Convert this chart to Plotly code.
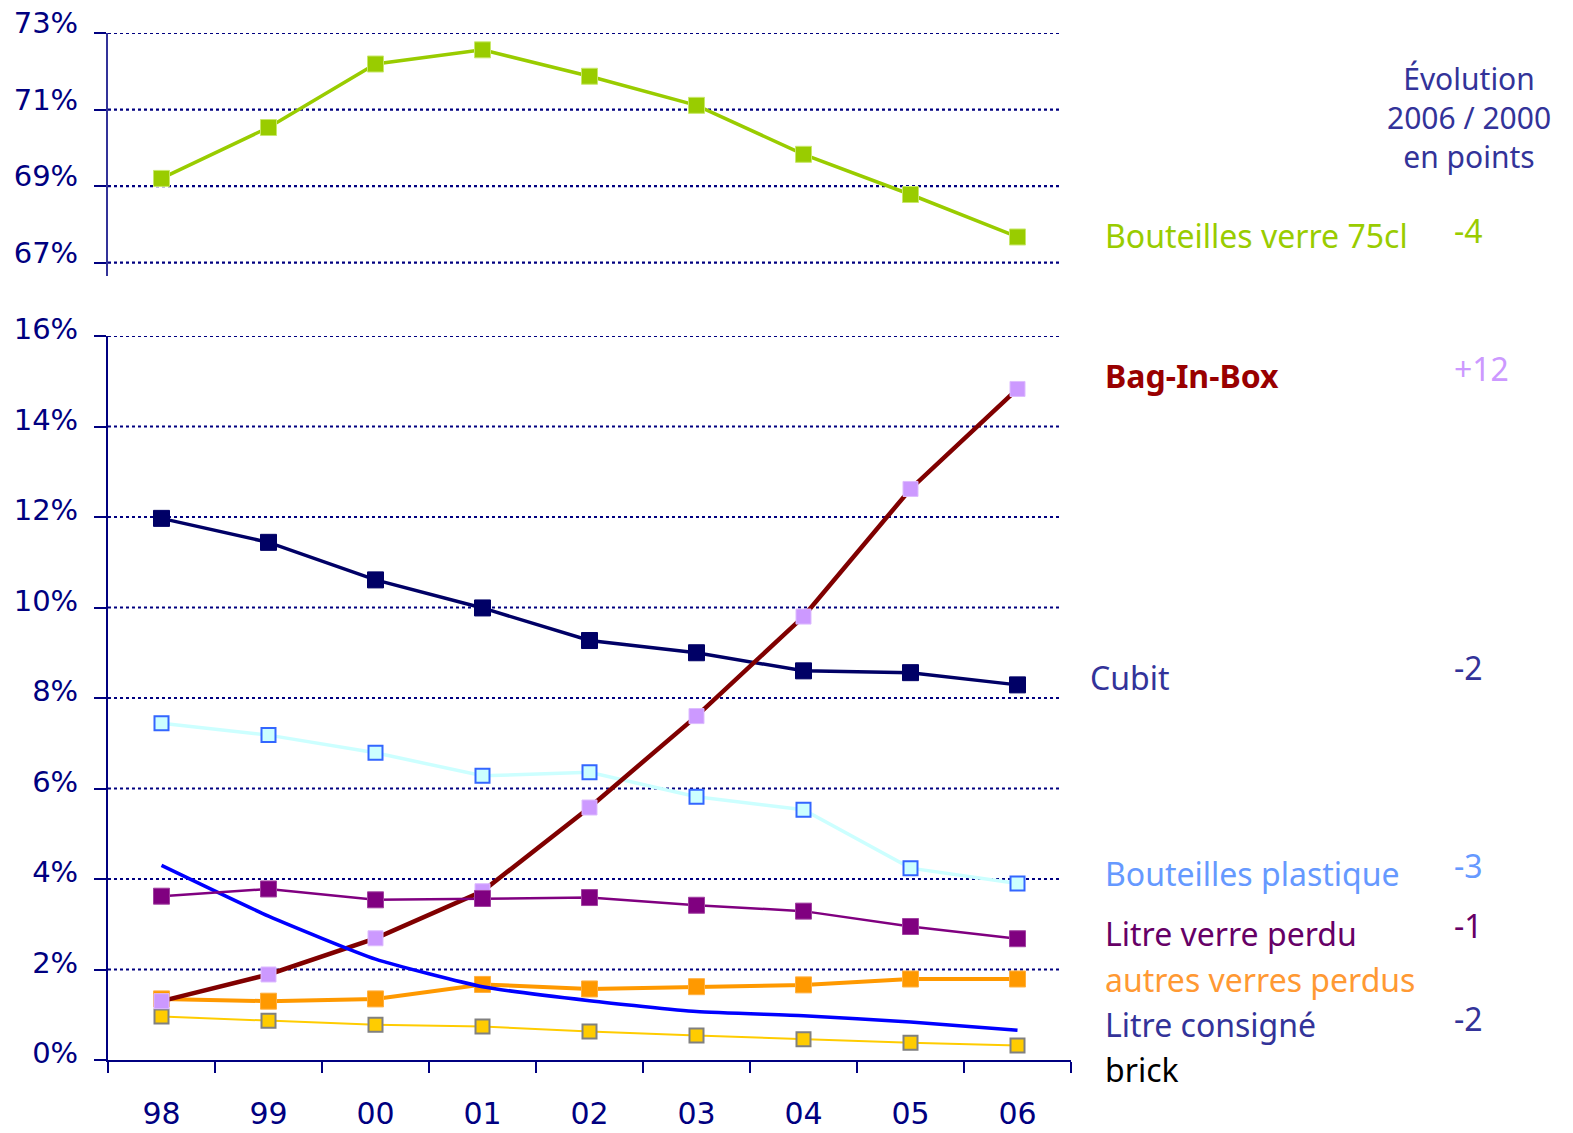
import plotly.graph_objects as go

# Parts de marché des conditionnements (en % des volumes)
years = ["98", "99", "00", "01", "02", "03", "04", "05", "06"]

verre_75cl = [69.20, 70.53, 72.19, 72.56, 71.87, 71.11, 69.83, 68.78, 67.67]
bag_in_box = [1.30, 1.89, 2.69, 3.73, 5.58, 7.60, 9.80, 12.62, 14.83]
cubit = [11.97, 11.44, 10.61, 9.99, 9.27, 9.00, 8.60, 8.56, 8.29]
bouteilles_plastique = [7.44, 7.18, 6.79, 6.28, 6.36, 5.82, 5.53, 4.24, 3.90]
litre_verre_perdu = [3.62, 3.78, 3.54, 3.57, 3.59, 3.42, 3.29, 2.95, 2.68]
autres_verres_perdus = [1.35, 1.30, 1.35, 1.67, 1.57, 1.62, 1.66, 1.79, 1.79]
litre_consigne = [4.30, 3.18, 2.23, 1.62, 1.31, 1.07, 0.98, 0.84, 0.66]
brick = [0.96, 0.87, 0.78, 0.74, 0.63, 0.54, 0.46, 0.38, 0.32]

top_ticks = [67, 69, 71, 73]
top_ticktext = ["67%", "69%", "71%", "73%"]
bottom_ticks = [0, 2, 4, 6, 8, 10, 12, 14, 16]
bottom_ticktext = ["0%", "2%", "4%", "6%", "8%", "10%", "12%", "14%", "16%"]

header_lines = ["Évolution", "2006 / 2000", "en points"]

# Libellés de droite : (texte, évolution 2006/2000, couleur du texte, couleur de la valeur)
series_labels = [
    ("Bouteilles verre 75cl", "-4", "#99cc00", "#99cc00"),
    ("<b>Bag-In-Box</b>", "+12", "#990000", "#cc99ff"),
    ("Cubit", "-2", "#333399", "#333399"),
    ("Bouteilles plastique", "-3", "#6699ff", "#6699ff"),
    ("Litre verre perdu", "-1", "#660066", "#660066"),
    ("autres verres perdus", "", "#ff9933", "#ff9933"),
    ("Litre consigné", "-2", "#333399", "#333399"),
    ("brick", "", "#000000", "#000000"),
]
# pixel placement of the right-hand labels
header_center = 117
label_rows = [235, 375, 677, 873, 933, 979, 1024, 1069]
label_left = [1103, 1103, 1088, 1103, 1103, 1103, 1103, 1103]
value_rows = [231, 368, 667, 865, 925, 0, 1018, 0]

W, H = 1573, 1133
ML, MR, MT, MB = 108, 502, 33, 73
PW, PH = W - ML - MR, H - MT - MB

NAVY = "#000080"
Y_TICK_FONT = dict(family="DejaVu Sans", size=29, color=NAVY)
X_TICK_FONT = dict(family="DejaVu Sans", size=30, color=NAVY)
LABEL_FONT = "Noto Sans"
LABEL_SIZE = 32


def px_x(px):
    return (px - ML) / PW


def px_y(py):
    return (H - MB - py) / PH


fig = go.Figure()

sq = "square"

# Panneau haut : bouteilles 75 cl
fig.add_trace(go.Scatter(
    x=years, y=verre_75cl, yaxis="y2", mode="lines+markers",
    line=dict(color="#99cc00", width=3.5),
    marker=dict(symbol=sq, size=16, color="#99cc00", line=dict(color="#c8e86a", width=1)),
    name="Bouteilles verre 75cl",
))

# Panneau bas
fig.add_trace(go.Scatter(
    x=years, y=bouteilles_plastique, mode="lines+markers",
    line=dict(color="#ccffff", width=3.5),
    marker=dict(symbol=sq, size=14, color="#ccffff", line=dict(color="#3366ff", width=2)),
    name="Bouteilles plastique",
))
fig.add_trace(go.Scatter(
    x=years, y=cubit, mode="lines+markers",
    line=dict(color="#000066", width=3.5),
    marker=dict(symbol=sq, size=16, color="#000066", line=dict(color="#000066", width=1)),
    name="Cubit",
))
fig.add_trace(go.Scatter(
    x=years, y=brick, mode="lines+markers",
    line=dict(color="#ffcc00", width=2),
    marker=dict(symbol=sq, size=14, color="#ffcc00", line=dict(color="#808080", width=2)),
    name="brick",
))
fig.add_trace(go.Scatter(
    x=years, y=autres_verres_perdus, mode="lines+markers",
    line=dict(color="#ff9900", width=4),
    marker=dict(symbol=sq, size=16, color="#ff9900", line=dict(color="#ffb040", width=1)),
    name="autres verres perdus",
))
fig.add_trace(go.Scatter(
    x=years, y=bag_in_box, mode="lines+markers",
    line=dict(color="#800000", width=4.5),
    marker=dict(symbol=sq, size=15, color="#cc99ff", line=dict(color="#ddbbff", width=1)),
    name="Bag-In-Box",
))
fig.add_trace(go.Scatter(
    x=years, y=litre_consigne, mode="lines",
    line=dict(color="#0000ff", width=3.5, shape="spline", smoothing=0.5),
    name="Litre consigné",
))
fig.add_trace(go.Scatter(
    x=years, y=litre_verre_perdu, mode="lines+markers",
    line=dict(color="#800080", width=2.5),
    marker=dict(symbol=sq, size=16, color="#800080", line=dict(color="#a040a0", width=1)),
    name="Litre verre perdu",
))

# Quadrillage pointillé
grid_end = px_x(1060)
grid_line = dict(color=NAVY, width=2.2, dash="3px,3px")
shapes = []
for v in top_ticks:
    shapes.append(dict(type="line", xref="paper", yref="y2", x0=0, x1=grid_end, y0=v, y1=v,
                       line=grid_line, layer="below"))
for v in bottom_ticks[1:]:
    shapes.append(dict(type="line", xref="paper", yref="y", x0=0, x1=grid_end, y0=v, y1=v,
                       line=grid_line, layer="below"))

annotations = [dict(
    text="<br>".join(header_lines), xref="paper", yref="paper",
    x=px_x(1469), y=px_y(header_center), xanchor="center", yanchor="middle", align="center",
    showarrow=False, font=dict(family=LABEL_FONT, size=30, color="#333399"),
)]
for (txt, val, col, vcol), row, left, vrow in zip(series_labels, label_rows, label_left, value_rows):
    annotations.append(dict(
        text=txt, xref="paper", yref="paper", x=px_x(left), y=px_y(row),
        xanchor="left", yanchor="middle", showarrow=False,
        font=dict(family=LABEL_FONT, size=LABEL_SIZE, color=col),
    ))
    if val:
        annotations.append(dict(
            text=val, xref="paper", yref="paper", x=px_x(1452), y=px_y(vrow),
            xanchor="left", yanchor="middle", showarrow=False,
            font=dict(family=LABEL_FONT, size=LABEL_SIZE, color=vcol),
        ))

fig.update_layout(
    width=W, height=H,
    margin=dict(l=ML, r=MR, t=MT, b=MB, autoexpand=False),
    paper_bgcolor="white", plot_bgcolor="white",
    showlegend=False,
    xaxis=dict(
        type="category", range=[-0.5, 8.5], tickson="boundaries",
        ticks="outside", ticklen=11, tickwidth=2, tickcolor=NAVY,
        showline=True, linecolor=NAVY, linewidth=2, showgrid=False,
        tickfont=X_TICK_FONT, ticklabelstandoff=26, anchor="y", zeroline=False,
        automargin=False,
    ),
    yaxis=dict(
        domain=[0, px_y(336)], range=[0, 16],
        tickvals=bottom_ticks, ticktext=bottom_ticktext,
        ticks="outside", ticklen=12, tickwidth=2, tickcolor=NAVY,
        showline=True, linecolor=NAVY, linewidth=2, showgrid=False, zeroline=False,
        tickfont=Y_TICK_FONT, ticklabelstandoff=10, ticklabelshift=-7,
        automargin=False,
    ),
    yaxis2=dict(
        domain=[px_y(276), 1], range=[66.65, 73], anchor="x",
        tickvals=top_ticks, ticktext=top_ticktext,
        ticks="outside", ticklen=12, tickwidth=2, tickcolor=NAVY,
        showline=True, linecolor="#333399", linewidth=2, showgrid=False, zeroline=False,
        tickfont=Y_TICK_FONT, ticklabelstandoff=10, ticklabelshift=-10,
        automargin=False,
    ),
    shapes=shapes,
    annotations=annotations,
)

fig.write_html("out.html")
